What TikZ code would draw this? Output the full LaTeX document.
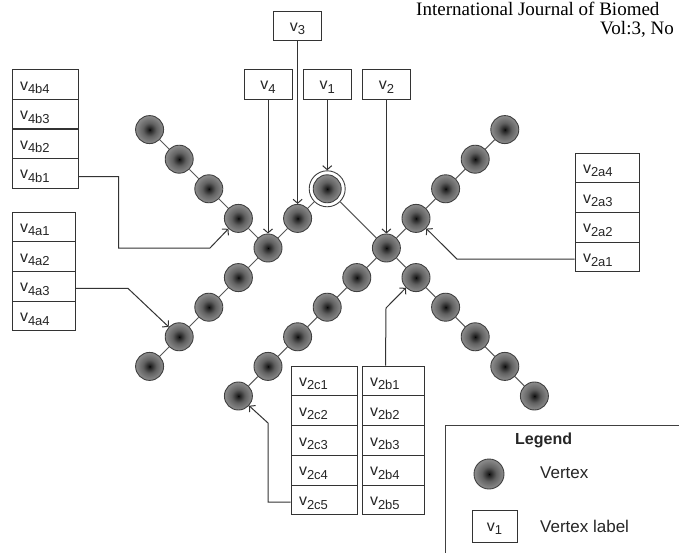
\documentclass[tikz,border=0pt]{standalone}
\usepackage{fontspec}
\setmainfont{Liberation Sans}
\newfontfamily\headfont{Liberation Serif}
\usetikzlibrary{arrows.meta,calc}
\pgfdeclareradialshading{vshade}{\pgfpointorigin}{color(0bp)=(black); color(2bp)=(black!88); color(12bp)=(black!62); color(30bp)=(black!38); color(50bp)=(black!20)}
\newcommand\lab[2]{#1\raisebox{-3.4pt}{\fontsize{13}{15}\selectfont #2}}
\tikzset{
  vtx/.style={circle, minimum size=28pt, inner sep=0pt, draw=black!75, line width=0.9pt, shade, shading=vshade},
  ring/.style={circle, minimum size=36pt, inner sep=0pt, draw=black!75, line width=0.9pt},
  edge/.style={draw=black!65, line width=1pt},
  conn/.style={draw=black!80, line width=1pt, -{Straight Barb[length=4pt,width=9pt]}},
  lblfont/.style={font=\fontsize{16}{18}\selectfont, text=black!85},
  tlab/.style={lblfont, draw=black!80, line width=1pt, rectangle, minimum width=48pt, minimum height=29.5pt, inner sep=0pt, text height=11pt, text depth=0pt},
  row/.style={lblfont, draw=black!80, line width=1pt, rectangle, inner xsep=8pt, inner ysep=0pt, text width=#1, align=left, minimum height=29.7pt, text height=11pt, text depth=0pt},
  plain/.style={font=\fontsize{17}{19}\selectfont, text=black!85, anchor=base west, inner sep=0pt}
}
\begin{document}
\begin{tikzpicture}[x=1pt, y=-1pt]
\useasboundingbox (0,0) rectangle (679,553);
\clip (0,0) rectangle (679,553);
\fill[white] (0,0) rectangle (679,553);

% header
\node[anchor=base west, inner sep=0pt, font=\headfont\fontsize{19}{21}\selectfont] (h1) at (416,16) {International Journal of Biomed};
\node[anchor=base west, inner sep=0pt, font=\headfont\fontsize{19}{21}\selectfont] (h2) at (600,35) {Vol:3, No};

% vertices
\node[vtx] (v4) at (268,248) {};
\node[vtx] (v3) at (297.6,218.4) {};
\node[vtx] (v1) at (327.2,188.8) {};
\node[ring] (v1r) at (v1) {};
\node[vtx] (v2) at (386.4,248) {};
\node[vtx] (v2a1) at (416,218.4) {};
\node[vtx] (v2a2) at (445.6,188.8) {};
\node[vtx] (v2a3) at (475.2,159.2) {};
\node[vtx] (v2a4) at (504.8,129.6) {};
\node[vtx] (v2b1) at (416,277.6) {};
\node[vtx] (v2b2) at (445.6,307.2) {};
\node[vtx] (v2b3) at (475.2,336.8) {};
\node[vtx] (v2b4) at (504.8,366.4) {};
\node[vtx] (v2b5) at (534.4,396) {};
\node[vtx] (v2c1) at (356.8,277.6) {};
\node[vtx] (v2c2) at (327.2,307.2) {};
\node[vtx] (v2c3) at (297.6,336.8) {};
\node[vtx] (v2c4) at (268,366.4) {};
\node[vtx] (v2c5) at (238.4,396) {};
\node[vtx] (v4a1) at (238.4,277.6) {};
\node[vtx] (v4a2) at (208.8,307.2) {};
\node[vtx] (v4a3) at (179.2,336.8) {};
\node[vtx] (v4a4) at (149.6,366.4) {};
\node[vtx] (v4b1) at (238.4,218.4) {};
\node[vtx] (v4b2) at (208.8,188.8) {};
\node[vtx] (v4b3) at (179.2,159.2) {};
\node[vtx] (v4b4) at (149.6,129.6) {};

% edges
\draw[edge] (v4b4) -- (v4b3) -- (v4b2) -- (v4b1) -- (v4);
\draw[edge] (v4) -- (v4a1) -- (v4a2) -- (v4a3) -- (v4a4);
\draw[edge] (v4) -- (v3) -- (v1r) -- (v2);
\draw[edge] (v2) -- (v2a1) -- (v2a2) -- (v2a3) -- (v2a4);
\draw[edge] (v2) -- (v2b1) -- (v2b2) -- (v2b3) -- (v2b4) -- (v2b5);
\draw[edge] (v2) -- (v2c1) -- (v2c2) -- (v2c3) -- (v2c4) -- (v2c5);

% top labels
\node[tlab] (L3) at (297.6,26) {\lab{v}{3}};
\node[tlab] (L4) at (268,84.5) {\lab{v}{4}};
\node[tlab] (L1) at (327.2,84.5) {\lab{v}{1}};
\node[tlab] (L2) at (386.4,84.5) {\lab{v}{2}};
\draw[conn] (L3) -- (v3);
\draw[conn] (L4) -- (v4);
\draw[conn] (L1) -- (v1r);
\draw[conn] (L2) -- (v2);

% v4b box
\node[row=50pt] (r4b4) at (45,84.75) {\lab{v}{4b4}};
\node[row=50pt] (r4b3) at (45,114.25) {\lab{v}{4b3}};
\node[row=50pt] (r4b2) at (45,143.75) {\lab{v}{4b2}};
\node[row=50pt] (r4b1) at (45,173.25) {\lab{v}{4b1}};
% v4a box
\node[row=47pt] (r4a1) at (43.5,226.9) {\lab{v}{4a1}};
\node[row=47pt] (r4a2) at (43.5,256.6) {\lab{v}{4a2}};
\node[row=47pt] (r4a3) at (43.5,286.4) {\lab{v}{4a3}};
\node[row=47pt] (r4a4) at (43.5,316.1) {\lab{v}{4a4}};
% v2a box
\node[row=48pt] (r2a4) at (607,167.9) {\lab{v}{2a4}};
\node[row=48pt] (r2a3) at (607,197.6) {\lab{v}{2a3}};
\node[row=48pt] (r2a2) at (607,227.4) {\lab{v}{2a2}};
\node[row=48pt] (r2a1) at (607,257.1) {\lab{v}{2a1}};
% v2c box
\node[row=50pt] (r2c1) at (324,380.9) {\lab{v}{2c1}};
\node[row=50pt] (r2c2) at (324,410.7) {\lab{v}{2c2}};
\node[row=50pt] (r2c3) at (324,440.5) {\lab{v}{2c3}};
\node[row=50pt] (r2c4) at (324,470.3) {\lab{v}{2c4}};
\node[row=50pt] (r2c5) at (324,500.1) {\lab{v}{2c5}};
% v2b box
\node[row=46pt] (r2b1) at (393,380.9) {\lab{v}{2b1}};
\node[row=46pt] (r2b2) at (393,410.7) {\lab{v}{2b2}};
\node[row=46pt] (r2b3) at (393,440.5) {\lab{v}{2b3}};
\node[row=46pt] (r2b4) at (393,470.3) {\lab{v}{2b4}};
\node[row=46pt] (r2b5) at (393,500.1) {\lab{v}{2b5}};

% bends
\coordinate (k1) at (210,248);
\coordinate (k2) at (128,288.4);
\coordinate (k3) at (457,259.1);
\coordinate (k4) at (268,423);
\coordinate (k5) at (386,308);

\draw[conn] ($(r4b1.east)+(0,3.5)$) -- ++(40,0) |- (k1) -- (v4b1);
\draw[conn] ($(r4a3.east)+(0,2)$) -- (k2) -- (v4a3);
\draw[conn] ($(r2a1.west)+(0,2)$) -- (k3) -- (v2a1);
\draw[conn] ($(r2c5.west)+(0,2)$) -| (k4) -- (v2c5);
\draw[conn] ($(r2b1.north west)+(24,0)$) -- (k5) -- (v2b1);

% legend
\draw[draw=black!75, line width=1pt] (445,553) -- (445,425) -- (679,425);
\node[plain, font=\bfseries\fontsize{16}{18}\selectfont] (legt) at (515,444) {Legend};
\node[vtx, minimum size=30pt] (lv) at (489,474) {};
\node[plain] (lvt) at (540,478) {Vertex};
\node[tlab, minimum width=45pt, minimum height=32pt] (lb) at (494.5,526) {\lab{v}{1}};
\node[plain] (lbt) at (540,532) {Vertex label};
\end{tikzpicture}
\end{document}
